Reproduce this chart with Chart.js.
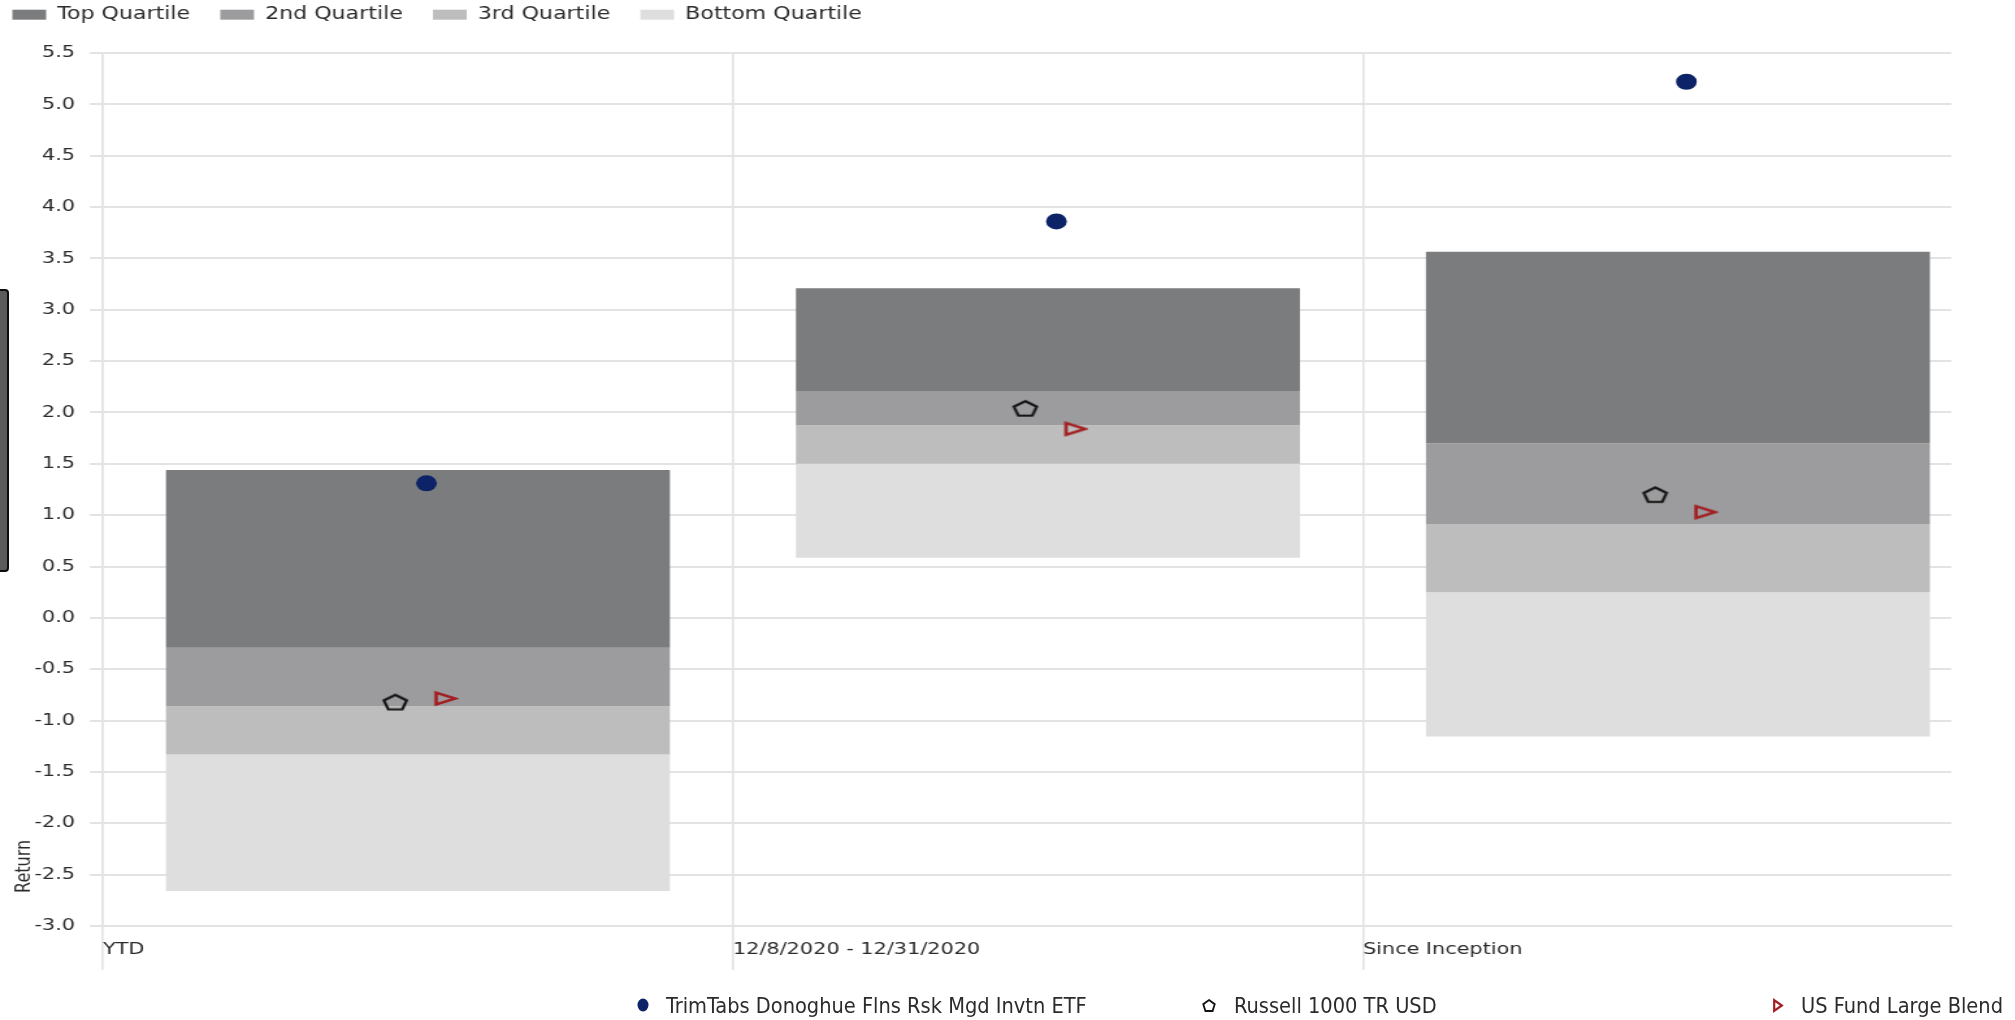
<!DOCTYPE html>
<html>
<head>
<meta charset="utf-8">
<title>Return quartiles</title>
<script src="https://cdn.jsdelivr.net/npm/chart.js@4.4.1/dist/chart.umd.min.js"></script>
<style>
  html, body { margin: 0; padding: 0; background: #fff; }
  body { width: 2015px; height: 1020px; position: relative; overflow: hidden; }
  /* chart stage is laid out narrow and widened horizontally */
  #stage { position: absolute; left: 0; top: 0; width: 1550px; height: 1020px;
           transform: scaleX(1.3); transform-origin: 0 0; }
  #rail { position: absolute; left: 0; top: 289px; width: 7px; height: 279px;
          background: #5b5b5b; border: 2px solid #0d0d0d; border-left: none;
          border-radius: 0 4px 4px 0; }
  #seriesLegend { position: absolute; left: 0; top: 990px; width: 2015px; height: 30px;
          font-family: 'DejaVu Sans Condensed', 'DejaVu Sans', sans-serif;
          font-size: 21.6px; color: #2b2b2b; }
  #seriesLegend .item { position: absolute; top: 0; height: 30px; display: flex;
          align-items: center; white-space: nowrap; }
  #seriesLegend canvas { display: block; margin-right: 17px; }
</style>
</head>
<body>
<div id="stage"><canvas id="chart"></canvas></div>
<div id="rail"></div>
<div id="seriesLegend"></div>
<script>
// Periods on the x axis
const categories = ['YTD', '12/8/2020 - 12/31/2020', 'Since Inception'];

// Peer-group quartile breakpoints per period (return, %)
const rangeHigh   = [1.44, 3.21, 3.565];
const breakTop    = [-0.29, 2.21, 1.70];
const breakMedian = [-0.86, 1.875, 0.91];
const breakLow    = [-1.33, 1.50, 0.25];
const rangeLow    = [-2.66, 0.585, -1.155];

// Point returns per period
const fundReturn     = [1.31, 3.86, 5.22];
const indexReturn    = [-0.82, 2.04, 1.20];
const categoryReturn = [-0.785, 1.84, 1.03];

const quartileNames = ['Top Quartile', '2nd Quartile', '3rd Quartile', 'Bottom Quartile'];
const seriesNames = ['TrimTabs Donoghue Flns Rsk Mgd Invtn ETF', 'Russell 1000 TR USD', 'US Fund Large Blend'];

// Value axis
const yMin = -3.0, yMax = 5.5, yStep = 0.5;

// ---- styling ----
const bandColors = ['#7b7c7e', '#9c9c9e', '#bdbdbd', '#dedede'];
const navy = '#0c2367';
const red = '#a31d20';
const gridColor = '#e3e3e3';
const textColor = '#2b2b2b';
const markerDodge = [0.0135, -0.036, 0.044];   // horizontal nudge of each marker within a period
const legendMarkerX = [643, 1209, 1778];        // bottom legend marker centres

Chart.defaults.font.family = "'DejaVu Sans', Verdana, sans-serif";
Chart.defaults.color = textColor;

function pentagon(w, h, lw, color) {
  const c = document.createElement('canvas');
  c.width = Math.ceil(w + 2 * lw); c.height = Math.ceil(h + 2 * lw);
  const g = c.getContext('2d');
  const rx = w / 1.902, ry = h / 1.809;
  const cx = c.width / 2, cy = c.height / 2 + 0.0955 * ry;
  g.beginPath();
  for (let k = 0; k < 5; k++) {
    const a = -Math.PI / 2 + k * 2 * Math.PI / 5;
    const px = cx + rx * Math.cos(a), py = cy + ry * Math.sin(a);
    k ? g.lineTo(px, py) : g.moveTo(px, py);
  }
  g.closePath();
  g.lineWidth = lw; g.strokeStyle = color; g.lineJoin = 'miter'; g.stroke();
  return c;
}

function rightTriangle(w, h, lw, color) {
  const c = document.createElement('canvas');
  c.width = Math.ceil(w); c.height = Math.ceil(h);
  const g = c.getContext('2d');
  const m = lw;
  g.beginPath();
  g.moveTo(m, m); g.lineTo(c.width - m, c.height / 2); g.lineTo(m, c.height - m);
  g.closePath();
  g.lineWidth = lw; g.strokeStyle = color; g.lineJoin = 'miter'; g.stroke();
  return c;
}

function ellipseDot(w, h, color) {
  const c = document.createElement('canvas');
  c.width = w; c.height = h;
  const g = c.getContext('2d');
  g.beginPath(); g.ellipse(w / 2, h / 2, w / 2 - 0.5, h / 2 - 0.5, 0, 0, Math.PI * 2);
  g.fillStyle = color; g.fill();
  return c;
}

// floating bars, one dataset per quartile band
const bands = [
  [breakTop, rangeHigh],
  [breakMedian, breakTop],
  [breakLow, breakMedian],
  [rangeLow, breakLow]
];
const barDatasets = bands.map(([lo, hi], k) => ({
  type: 'bar',
  label: quartileNames[k],
  data: categories.map((_, i) => ({ x: i + 0.5, y: [lo[i], hi[i]] })),
  backgroundColor: bandColors[k],
  borderWidth: 0,
  grouped: false,
  barPercentage: 1,
  categoryPercentage: 0.8,
  order: 2
}));

const markerValues = [fundReturn, indexReturn, categoryReturn];
const markerStyles = [
  { pointStyle: 'circle', pointRadius: 8, pointBackgroundColor: navy, pointBorderColor: navy, pointBorderWidth: 0 },
  { pointStyle: pentagon(17.5, 14.5, 2.2, '#111'), pointRadius: 8 },
  { pointStyle: rightTriangle(19.5, 17, 2.6, red), pointRadius: 8 }
];
const markerDatasets = markerValues.map((vals, k) => Object.assign({
  type: 'scatter',
  label: seriesNames[k],
  data: categories.map((_, i) => ({ x: i + 0.5 + markerDodge[k], y: vals[i] })),
  order: 0
}, markerStyles[k]));

// leave a fixed band above the plot for the quartile legend
const legendBand = {
  id: 'legendBand',
  beforeInit(chart) {
    const fit = chart.legend.fit;
    chart.legend.fit = function () { fit.call(this); this.height = 70; };
  }
};

// rotated value-axis caption near the lower end of the axis
const yCaption = {
  id: 'yCaption',
  afterDraw(chart) {
    const { ctx, chartArea } = chart;
    ctx.save();
    ctx.font = "16px 'DejaVu Sans'";
    ctx.fillStyle = textColor;
    ctx.translate(18.5, chartArea.bottom - 33);
    ctx.rotate(-Math.PI / 2);
    ctx.textAlign = 'left';
    ctx.textBaseline = 'middle';
    ctx.fillText('Return', 0, 0);
    ctx.restore();
  }
};

new Chart(document.getElementById('chart'), {
  type: 'bar',
  data: { datasets: [...barDatasets, ...markerDatasets] },
  options: {
    responsive: true,
    maintainAspectRatio: false,
    animation: false,
    events: [],
    layout: { padding: { top: -17, left: -13.7, right: 49, bottom: 0 } },
    plugins: {
      legend: {
        position: 'top',
        align: 'start',
        labels: {
          boxWidth: 26, boxHeight: 10, padding: 23.2,
          font: { size: 17 }, color: textColor,
          filter: (item) => item.datasetIndex < quartileNames.length
        }
      },
      tooltip: { enabled: false }
    },
    scales: {
      x: {
        type: 'linear',
        offset: false,
        min: 0,
        max: 2.934,
        afterFit: (s) => { s.height = 94; },
        grid: { offset: false, color: gridColor, lineWidth: 1.6, tickLength: 44 },
        border: { color: gridColor, width: 2 },
        ticks: {
          stepSize: 1, includeBounds: false, autoSkip: false,
          maxRotation: 0, minRotation: 0, align: 'start', padding: -30,
          font: { size: 16 }, color: textColor,
          callback: (v) => (categories[v] !== undefined ? categories[v] : '')
        }
      },
      y: {
        min: yMin,
        max: yMax,
        afterFit: (s) => { s.width = 92.9; },
        grid: { color: gridColor, lineWidth: 2, tickLength: 10 },
        border: { color: gridColor, width: 1.6 },
        ticks: {
          stepSize: yStep, padding: 11.5,
          font: { size: 16 }, color: textColor,
          callback: (v) => Number(v).toFixed(1)
        }
      }
    }
  },
  plugins: [legendBand, yCaption]
});

// series legend under the plot
const legendIcons = [
  () => ellipseDot(12, 14, navy),
  () => pentagon(11.5, 11, 1.8, '#111'),
  () => rightTriangle(12, 15, 2.2, red)
];
const legendEl = document.getElementById('seriesLegend');
seriesNames.forEach((name, k) => {
  const item = document.createElement('div');
  item.className = 'item';
  const icon = legendIcons[k]();
  item.style.left = (legendMarkerX[k] - icon.width / 2) + 'px';
  item.appendChild(icon);
  const span = document.createElement('span');
  span.textContent = name;
  item.appendChild(span);
  legendEl.appendChild(item);
});
</script>
</body>
</html>
